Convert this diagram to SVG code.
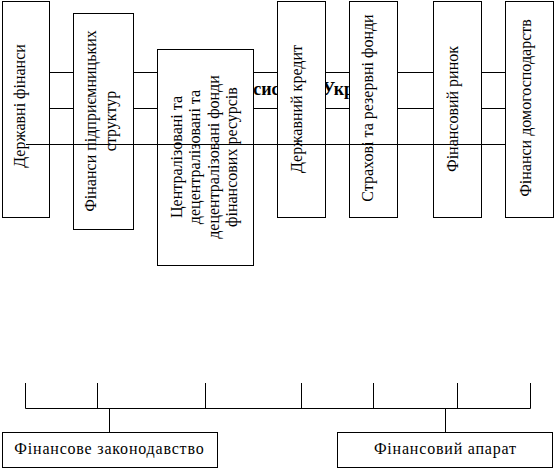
<svg xmlns="http://www.w3.org/2000/svg" width="554" height="470" viewBox="0 0 554 470">
<style>
.box{fill:#fff;stroke:#000;stroke-width:1}
.ln{fill:none;stroke:#000;stroke-width:1}
.t{font-family:"Liberation Serif","Times New Roman",serif;font-size:16px;fill:#000;text-anchor:middle}
.b{letter-spacing:0.8px}
.title{font-family:"Liberation Serif","Times New Roman",serif;font-size:18px;font-weight:bold;fill:#000;text-anchor:middle}
</style>
<rect width="554" height="470" fill="#fff"/>
<g id="title">
<rect class="box" x="26.5" y="72.5" width="504" height="36"/>
<text class="title" x="276" y="95">Фінансова система України</text>
</g>
<g id="n1"><rect class="box" x="2.5" y="1.5" width="47" height="216"/>
<text class="t" transform="translate(25,106) rotate(-90)">Державні фінанси</text></g>
<g id="n2"><rect class="box" x="73.5" y="13.5" width="60" height="216"/>
<text class="t" transform="translate(96,121) rotate(-90)">Фінанси підприємницьких</text>
<text class="t" transform="translate(116,121) rotate(-90)">структур</text></g>
<g id="n3"><rect class="box" x="157.5" y="49.5" width="96" height="216"/>
<text class="t" transform="translate(182,157) rotate(-90)">Централізовані та</text>
<text class="t" transform="translate(200.4,157) rotate(-90)">децентралізовані та</text>
<text class="t" transform="translate(218.8,157) rotate(-90)">децентралізовані фонди</text>
<text class="t" transform="translate(237.2,157) rotate(-90)">фінансових ресурсів</text></g>
<g id="n4"><rect class="box" x="277.5" y="1.5" width="48" height="216"/>
<text class="t" transform="translate(302,109) rotate(-90)">Державний кредит</text></g>
<g id="n5"><rect class="box" x="349.5" y="1.5" width="48" height="216"/>
<text class="t" transform="translate(373,108) rotate(-90)">Страхові та резервні фонди</text></g>
<g id="n6"><rect class="box" x="433.5" y="1.5" width="48" height="216"/>
<text class="t" transform="translate(458,109) rotate(-90)">Фінансовий ринок</text></g>
<g id="n7"><rect class="box" x="505.5" y="1.5" width="48" height="216"/>
<text class="t" transform="translate(531,108) rotate(-90)">Фінанси домогосподарств</text></g>
<g id="connectors">
<path class="ln" d="M26 144.5H505.5"/>
<path class="ln" d="M25.5 383V408.5H530.5V383M97.5 383V408.5M205.5 383V408.5M301.5 383V408.5M373.5 383V408.5M457.5 383V408.5M109.5 408.5V432.5M445.5 408.5V432.5"/>
</g>
<g id="n8"><rect class="box" x="2.5" y="432.5" width="215" height="35"/>
<text class="t b" x="109.4" y="454">Фінансове законодавство</text></g>
<g id="n9"><rect class="box" x="337.5" y="432.5" width="215" height="35"/>
<text class="t b" x="445.4" y="454">Фінансовий апарат</text></g>
</svg>
